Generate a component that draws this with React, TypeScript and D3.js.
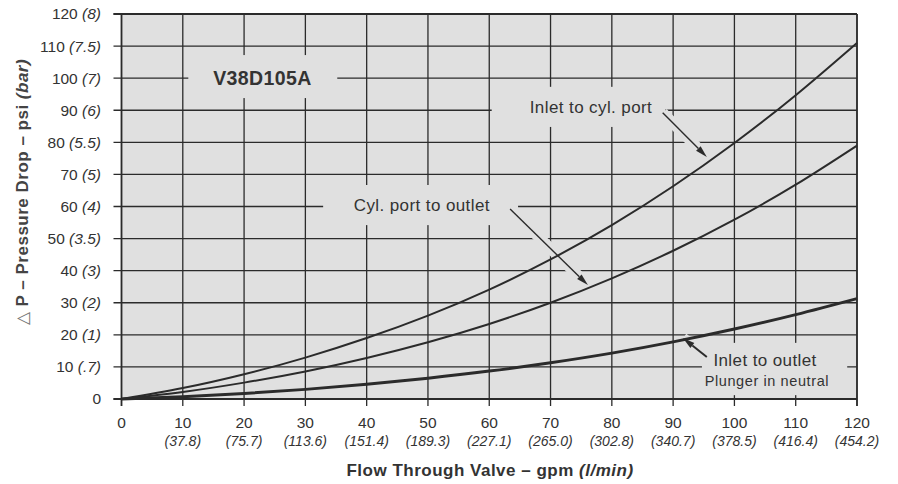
import React from "react";
import * as d3 from "d3";

const flowGpm = [0, 10, 20, 30, 40, 50, 60, 70, 80, 90, 100, 110, 120];
const flowLpmLabels = ["", "(37.8)", "(75.7)", "(113.6)", "(151.4)", "(189.3)", "(227.1)", "(265.0)", "(302.8)", "(340.7)", "(378.5)", "(416.4)", "(454.2)"];
const psiTicks = [0, 10, 20, 30, 40, 50, 60, 70, 80, 90, 100, 110, 120];
const barLabels = ["", "(.7)", "(1)", "(2)", "(3)", "(3.5)", "(4)", "(5)", "(5.5)", "(6)", "(7)", "(7.5)", "(8)"];

const inletToCylPort = [0, 3.4, 7.7, 12.9, 19.0, 26.0, 34.1, 43.5, 54.2, 66.3, 79.8, 94.7, 111.0];
const cylPortToOutlet = [0, 2.2, 5.1, 8.6, 12.8, 17.7, 23.4, 30.0, 37.6, 46.2, 55.9, 66.8, 79.0];
const inletToOutlet = [0, 0.7, 1.7, 3.0, 4.6, 6.5, 8.7, 11.3, 14.3, 17.8, 21.8, 26.3, 31.3];

// annotation arrows in data coordinates [fromX, fromY, toX, toY]
const arrowInletCyl = [88.3, 89.2, 95.5, 75.4];
const arrowCylOutlet = [63.4, 59.2, 76.1, 35.5];
const arrowInletOutlet = [95.5, 13.1, 91.6, 19.0];

// label gap boxes in data coordinates [x0, x1, yTop, yBottom]
const gapBoxes = [
  [10.9, 35.2, 107.2, 93.8],
  [60.4, 88.7, 97.3, 84.8],
  [32.9, 64.7, 66.7, 54.2],
  [94.7, 118.4, 17.5, 1.2],
];

const W = 898;
const H = 484;
const BG = "#e0e0e0";
const INK = "#2b2b2b";
const TXT = "#333";
const FONT = "'Liberation Sans', Arial, Helvetica, sans-serif";

export default function App() {
  const x = d3.scaleLinear().domain([0, 120]).range([121.5, 857]);
  const y = d3.scaleLinear().domain([0, 120]).range([399, 14]);

  const line = d3
    .line<number>()
    .x((_, i) => x(flowGpm[i]))
    .y((d) => y(d))
    .curve(d3.curveNatural);

  const arrow = (a: number[], width: number, key: string) => {
    const x1 = x(a[0]), y1 = y(a[1]), x2 = x(a[2]), y2 = y(a[3]);
    const dx = x2 - x1, dy = y2 - y1;
    const len = Math.hypot(dx, dy);
    const ux = dx / len, uy = dy / len;
    const hl = 12, hw = 3.2;
    const bx = x2 - ux * hl, by = y2 - uy * hl;
    const pts = [
      [x2, y2],
      [bx - uy * hw, by + ux * hw],
      [bx + uy * hw, by - ux * hw],
    ];
    return (
      <g key={key}>
        <line x1={x1} y1={y1} x2={bx} y2={by} stroke={INK} strokeWidth={width} />
        <polygon points={pts.map((p) => p.join(",")).join(" ")} fill={INK} />
      </g>
    );
  };
  const halo = (a: number[], key: string) => (
    <line key={key} x1={x(a[0])} y1={y(a[1])} x2={x(a[2])} y2={y(a[3])} stroke={BG} strokeWidth={11} />
  );

  return (
    <svg width={W} height={H} style={{ position: "absolute", left: 0, top: 0, background: "#fff" }}>
      <rect x={x(0)} y={y(120)} width={x(120) - x(0)} height={y(0) - y(120)} fill={BG} />
      {flowGpm.map((v) => (
        <line key={"v" + v} x1={x(v)} x2={x(v)} y1={y(120)} y2={y(0) + 7} stroke={INK} strokeWidth={1.3} />
      ))}
      {psiTicks.map((v) => (
        <line key={"h" + v} x1={x(0) - 8} x2={x(120)} y1={y(v)} y2={y(v)} stroke={INK} strokeWidth={1.3} />
      ))}
      {gapBoxes.map((b, i) => (
        <rect key={"g" + i} x={x(b[0])} y={y(b[2])} width={x(b[1]) - x(b[0])} height={y(b[3]) - y(b[2])} fill={BG} />
      ))}
      {halo(arrowInletCyl, "h1")}
      {halo(arrowCylOutlet, "h2")}
      {halo(arrowInletOutlet, "h3")}
      <line x1={x(0) - 8} x2={x(120)} y1={y(120)} y2={y(120)} stroke={INK} strokeWidth={1.8} />
      <line x1={x(120)} x2={x(120)} y1={y(120)} y2={y(0) + 7} stroke={INK} strokeWidth={1.6} />
      <line x1={x(0)} x2={x(0)} y1={y(120)} y2={y(0) + 7} stroke={INK} strokeWidth={1.6} />
      <line x1={x(0) - 8} x2={x(120)} y1={y(0)} y2={y(0)} stroke={INK} strokeWidth={1.8} />

      <path d={line(inletToCylPort) || ""} fill="none" stroke={INK} strokeWidth={2} />
      <path d={line(cylPortToOutlet) || ""} fill="none" stroke={INK} strokeWidth={2} />
      <path d={line(inletToOutlet) || ""} fill="none" stroke={INK} strokeWidth={3} />

      {arrow(arrowInletCyl, 1.4, "a1")}
      {arrow(arrowCylOutlet, 1.4, "a2")}
      {arrow(arrowInletOutlet, 2, "a3")}

      <g fontFamily={FONT} fill={TXT}>
        <text x={x(23)} y={y(100)} dy="0.35em" textAnchor="middle" fontSize={19.5} letterSpacing={0.4} fontWeight="bold">V38D105A</text>
        <text x={x(76.6)} y={y(91)} dy="0.35em" textAnchor="middle" fontSize={17} letterSpacing={0.4}>Inlet to cyl. port</text>
        <text x={x(49)} y={y(60.5)} dy="0.35em" textAnchor="middle" fontSize={17} letterSpacing={0.4}>Cyl. port to outlet</text>
        <text x={x(105)} y={y(12.2)} dy="0.35em" textAnchor="middle" fontSize={17} letterSpacing={0.4}>Inlet to outlet</text>
        <text x={x(105.3)} y={y(5.6)} dy="0.35em" textAnchor="middle" fontSize={14.5} letterSpacing={0.6}>Plunger in neutral</text>
      </g>

      <g fontFamily={FONT} fill={TXT} fontSize={15.5}>
        {psiTicks.map((v, i) => (
          <text key={"yl" + v} x={101} y={y(v)} dy="0.35em" textAnchor="end">
            {v}
            {barLabels[i] ? <tspan fontStyle="italic">{" " + barLabels[i]}</tspan> : null}
          </text>
        ))}
      </g>

      <g fontFamily={FONT} fill={TXT} textAnchor="middle">
        {flowGpm.map((v, i) => (
          <g key={"xl" + v}>
            <text x={x(v)} y={428} fontSize={15.5}>{v}</text>
            {flowLpmLabels[i] ? (
              <text x={x(v)} y={446} fontSize={14} fontStyle="italic">{flowLpmLabels[i]}</text>
            ) : null}
          </g>
        ))}
      </g>

      <text x={490} y={476} textAnchor="middle" fontFamily={FONT} fontSize={17} letterSpacing={0.5} fontWeight="bold" fill={TXT}>
        Flow Through Valve – gpm <tspan fontStyle="italic">(l/min)</tspan>
      </text>
      <text
        transform={`translate(22, 192) rotate(-90)`}
        textAnchor="middle"
        dy="0.35em"
        fontFamily={FONT}
        fontSize={17}
        letterSpacing={0.5}
        fontWeight="bold"
        fill="#444"
      >
        <tspan fontWeight="normal" fill="#777">△</tspan> P – Pressure Drop – psi <tspan fontStyle="italic">(bar)</tspan>
      </text>
    </svg>
  );
}
